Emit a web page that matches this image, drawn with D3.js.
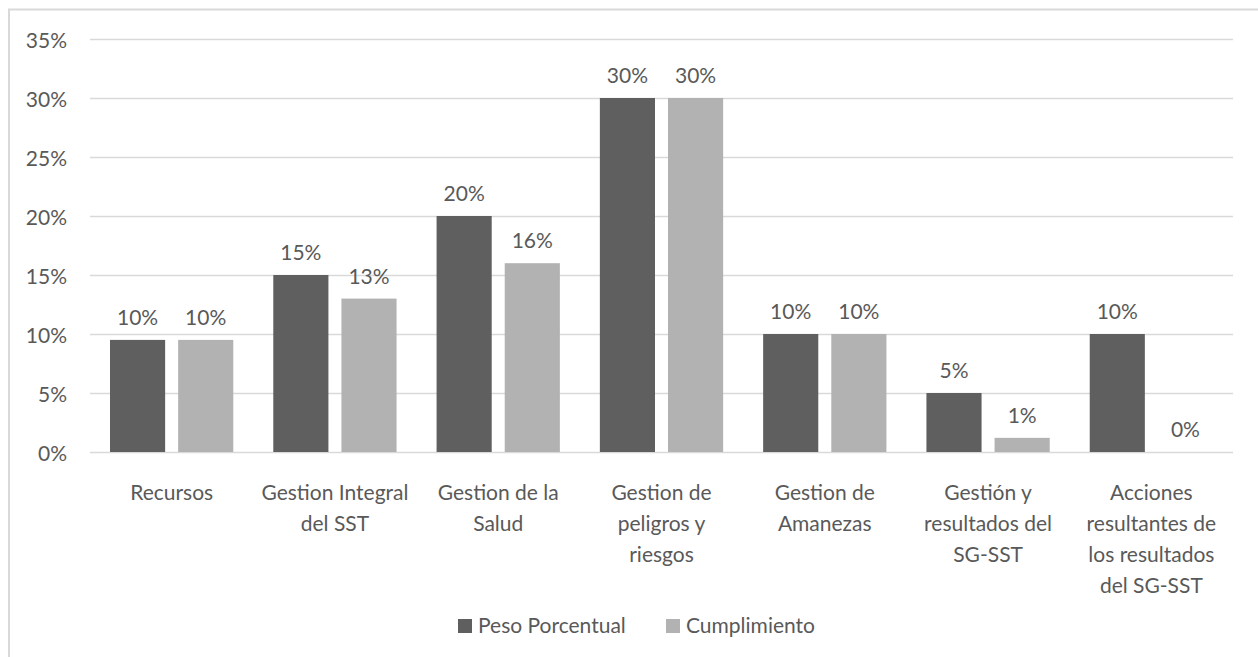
<!DOCTYPE html>
<html>
<head>
<meta charset="utf-8">
<script src="https://cdn.jsdelivr.net/npm/d3@7"></script>
<style>
  body { margin: 0; background: #fff; overflow: hidden; }
  svg text { font-family: Lato, "Open Sans", sans-serif; fill: #595959; }
</style>
</head>
<body>
<svg width="1258" height="657"></svg>
<script>
// **** Data ****
var categories = ["Recursos", "Gestion Integral del SST", "Gestion de la Salud",
    "Gestion de peligros y riesgos", "Gestion de Amanezas",
    "Gestión y resultados del SG-SST", "Acciones resultantes de los resultados del SG-SST"];
var categoryLines = [
    ["Recursos"],
    ["Gestion Integral", "del SST"],
    ["Gestion de la", "Salud"],
    ["Gestion de", "peligros y", "riesgos"],
    ["Gestion de", "Amanezas"],
    ["Gestión y", "resultados del", "SG-SST"],
    ["Acciones", "resultantes de", "los resultados", "del SG-SST"]
];
var seriesNames = ["Peso Porcentual", "Cumplimiento"];
var pesoPorcentual = [9.5, 15, 20, 30, 10, 5, 10];
var cumplimiento = [9.5, 13, 16, 30, 10, 1.2, 0];
var yTicks = [0, 5, 10, 15, 20, 25, 30, 35];
var colors = ["#5f5f5f", "#b2b2b2"];

var svg = d3.select('svg');

// outer frame (right and bottom edges fall outside the picture)
svg.append('rect')
    .attr('x', 9).attr('y', 9.5)
    .attr('width', 1270).attr('height', 670)
    .attr('fill', 'none')
    .attr('stroke', '#d9d9d9')
    .attr('stroke-width', 2);

// **** Scales ****
var x0 = d3.scaleBand()
    .domain(categories)
    .range([90, 1233])
    .paddingInner(0.245)
    .paddingOuter(0.1225);

var x1 = d3.scaleBand()
    .domain(seriesNames)
    .range([0, x0.bandwidth()])
    .paddingInner(0.191);

var y = d3.scaleLinear().domain([0, 35]).range([452, 39]);

var color = d3.scaleOrdinal().domain(seriesNames).range(colors);

// **** Grid + y axis ****
var yAxis = svg.append('g')
    .attr('class', 'y axis')
    .attr('transform', 'translate(90,0)')
    .call(d3.axisLeft(y)
        .tickValues(yTicks)
        .tickSize(-(1233 - 90))
        .tickPadding(23)
        .tickFormat(function (d) { return d + "%"; }));

yAxis.select('.domain').remove();
yAxis.selectAll('line').attr('stroke', '#d9d9d9').attr('stroke-width', 1.3);
yAxis.selectAll('text')
    .style('font-size', '21px')
    .attr('dy', '0.38em')
    .attr('y', 1);

// **** Bars ****
var rows = categories.map(function (c, i) {
    return { cat: c, values: [
        { key: seriesNames[0], value: pesoPorcentual[i] },
        { key: seriesNames[1], value: cumplimiento[i] }
    ] };
});

var groups = svg.append('g')
    .selectAll('g')
    .data(rows)
    .enter()
    .append('g')
    .attr('transform', function (d) { return 'translate(' + x0(d.cat) + ',0)'; });

groups.selectAll('rect')
    .data(function (d) { return d.values; })
    .enter()
    .append('rect')
    .attr('x', function (d) { return x1(d.key); })
    .attr('y', function (d) { return y(d.value); })
    .attr('width', x1.bandwidth())
    .attr('height', function (d) { return y(0) - y(d.value); })
    .attr('fill', function (d) { return color(d.key); });

// value labels
groups.selectAll('text')
    .data(function (d) { return d.values; })
    .enter()
    .append('text')
    .attr('x', function (d) { return x1(d.key) + x1.bandwidth() / 2; })
    .attr('y', function (d) { return y(d.value) - 15; })
    .attr('text-anchor', 'middle')
    .style('font-size', '21px')
    .text(function (d) { return Math.round(d.value) + "%"; });

// **** Category labels ****
var catLabels = svg.append('g')
    .selectAll('text')
    .data(categories)
    .enter()
    .append('text')
    .attr('text-anchor', 'middle')
    .style('font-size', '21px')
    .attr('transform', function (d) {
        return 'translate(' + (x0(d) + x0.bandwidth() / 2) + ',500)';
    });

catLabels.selectAll('tspan')
    .data(function (d, i) { return categoryLines[i]; })
    .enter()
    .append('tspan')
    .attr('x', 0)
    .attr('y', function (d, i) { return i * 31; })
    .text(function (d) { return d; });

// **** Legend ****
var legend = svg.append('g')
    .selectAll('g')
    .data(seriesNames)
    .enter()
    .append('g')
    .attr('transform', function (d, i) { return 'translate(' + [458, 666][i] + ',619)'; });

legend.append('rect')
    .attr('width', 14)
    .attr('height', 14)
    .attr('fill', function (d) { return color(d); });

legend.append('text')
    .attr('x', 20)
    .attr('y', 14)
    .style('font-size', '21px')
    .text(function (d) { return d; });
</script>
</body>
</html>
